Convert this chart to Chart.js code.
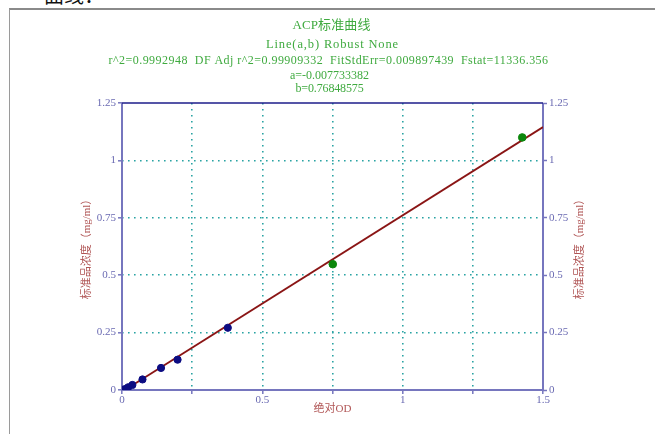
<!DOCTYPE html>
<html>
<head>
<meta charset="utf-8">
<script src="https://cdn.jsdelivr.net/npm/chart.js@4/dist/chart.umd.min.js"></script>
<style>
  html, body { margin: 0; padding: 0; background: #fff; }
  #wrap { position: relative; width: 655px; height: 434px; overflow: hidden; }
  #frame { position: absolute; left: 9px; top: 8px; right: -5px; bottom: -5px;
           border-top: 2px solid #8a8a8a; border-left: 1px solid #9a9a9a; }
  #cut { position: absolute; left: 44px; top: -17px; font: 20px "Noto Sans CJK SC"; line-height: 24px; color: #111; }
  canvas { position: absolute; left: 0; top: 0; }
</style>
</head>
<body>
<div id="wrap">
  <div id="cut">曲线：</div>
  <div id="frame"></div>
  <canvas id="c" width="655" height="434"></canvas>
</div>
<script>
// ---- data ----
const blueX = [0.002, 0.011, 0.022, 0.037, 0.073, 0.139, 0.198, 0.377];
const blueY = [0.000, 0.004, 0.012, 0.022, 0.046, 0.096, 0.132, 0.271];
const greenX = [0.751, 1.426];
const greenY = [0.548, 1.100];
const fitX = [0.0101, 1.5];
const fitY = [0.0, 1.145];
const xTicks = [0, 0.25, 0.5, 0.75, 1, 1.25, 1.5];
const xTickLabels = ['0', '', '0.5', '', '1', '', '1.5'];
const yTicks = [0, 0.25, 0.5, 0.75, 1, 1.25];
const yTickLabels = ['0', '0.25', '0.5', '0.75', '1', '1.25'];
const titleText = 'ACP标准曲线';
const subLines = [
  'Line(a,b) Robust None',
  'r^2=0.9992948  DF Adj r^2=0.99909332  FitStdErr=0.009897439  Fstat=11336.356',
  'a=-0.007733382',
  'b=0.76848575'
];
const xTitle = '绝对OD';
const yTitle = '标准品浓度（mg/ml）';

// ---- styles ----
const axisColor = '#7676be';
const topColor = '#1c1c8a';
const gridColor = '#2aa3a3';
const tickLabelColor = '#6a6ab2';
const axisTitleColor = '#b05555';
const headerColor = '#3faa3f';
const serif = '"Liberation Serif", "Noto Sans CJK SC", serif';

const toPts = (xs, ys) => xs.map((x, i) => ({ x: x, y: ys[i] }));

const headerPlugin = {
  id: 'header',
  afterDraw(chart) {
    const ctx = chart.ctx;
    const ca = chart.chartArea;
    const cx = (ca.left + ca.right) / 2;
    const rows = [
      { t: titleText, size: 13, y: 26, w: 78, dx: -1 },
      { t: subLines[0], size: 12.5, y: 45, w: 133, dx: 0 },
      { t: subLines[1], size: 12, y: 61, w: 440, dx: -4 },
      { t: subLines[2], size: 12, y: 76, w: 79, dx: -3 },
      { t: subLines[3], size: 12, y: 89, w: 68, dx: -3 }
    ];
    ctx.save();
    ctx.fillStyle = headerColor;
    ctx.textAlign = 'left';
    ctx.textBaseline = 'middle';
    rows.forEach(r => {
      ctx.font = r.size + 'px ' + serif;
      ctx.letterSpacing = '0px';
      const m = ctx.measureText(r.t).width;
      const ls = (r.w - m) / r.t.length;
      ctx.letterSpacing = ls + 'px';
      const w = ctx.measureText(r.t).width;
      ctx.fillText(r.t, cx + r.dx - w / 2, r.y);
    });
    // right axis title, reading bottom-to-top like the left one
    ctx.letterSpacing = '0px';
    ctx.fillStyle = axisTitleColor;
    ctx.font = '11px ' + serif;
    ctx.translate(580, (ca.top + ca.bottom) / 2);
    ctx.rotate(-Math.PI / 2);
    ctx.textAlign = 'center';
    ctx.fillText(yTitle, 0, 0);
    ctx.restore();
  }
};

const framePlugin = {
  id: 'frameLines',
  beforeDatasetsDraw(chart) {
    const ctx = chart.ctx;
    const ca = chart.chartArea;
    ctx.save();
    ctx.strokeStyle = axisColor;
    ctx.lineWidth = 2;
    ctx.beginPath();
    ctx.moveTo(ca.left, ca.top);
    ctx.lineTo(ca.left, ca.bottom);
    ctx.lineTo(ca.right, ca.bottom);
    ctx.lineTo(ca.right, ca.top);
    ctx.stroke();
    ctx.strokeStyle = topColor;
    ctx.lineWidth = 1.5;
    ctx.beginPath();
    ctx.moveTo(ca.left, ca.top);
    ctx.lineTo(ca.right, ca.top);
    ctx.stroke();
    ctx.restore();
  }
};

const tickFont = { family: serif, size: 11 };

new Chart(document.getElementById('c'), {
  type: 'scatter',
  data: {
    datasets: [
      { label: 'fit', type: 'line', data: toPts(fitX, fitY), borderColor: '#8a1515',
        borderWidth: 1.8, pointRadius: 0, fill: false, tension: 0, order: 3 },
      { label: 'std', data: toPts(blueX, blueY), backgroundColor: '#0c0c82',
        borderColor: '#0c0c82', pointRadius: 3.6, order: 2 },
      { label: 'samples', data: toPts(greenX, greenY), backgroundColor: '#0b870b',
        borderColor: '#0b870b', pointRadius: 3.8, order: 1 }
    ]
  },
  options: {
    responsive: false,
    animation: false,
    events: [],
    layout: { padding: { top: 103, left: 0, right: 0, bottom: 0 } },
    plugins: { legend: { display: false }, title: { display: false }, tooltip: { enabled: false } },
    scales: {
      x: {
        type: 'linear', position: 'bottom', min: 0, max: 1.5,
        afterBuildTicks: s => { s.ticks = xTicks.map(v => ({ value: v })); },
        afterFit: s => { s.height = 44; },
        ticks: { autoSkip: false, maxRotation: 0, color: tickLabelColor, font: tickFont, padding: 0,
                 callback: (v, i) => xTickLabels[i] },
        grid: {
          color: c => (c.tick && (c.tick.value === 0 || c.tick.value === 1.5)) ? 'rgba(0,0,0,0)' : gridColor,
          lineWidth: 1.6, tickColor: axisColor, tickLength: 4, tickWidth: 1.5
        },
        border: { display: false, dash: [1.6, 4.4] },
        title: { display: true, text: xTitle, color: axisTitleColor, font: { family: serif, size: 11 },
                 padding: { top: 0, bottom: 18 } }
      },
      y: {
        type: 'linear', position: 'left', min: 0, max: 1.25,
        afterBuildTicks: s => { s.ticks = yTicks.map(v => ({ value: v })); },
        afterFit: s => { s.width = 122; },
        ticks: { autoSkip: false, color: tickLabelColor, font: tickFont, padding: 2,
                 callback: (v, i) => yTickLabels[i] },
        grid: {
          color: c => (c.tick && (c.tick.value === 0 || c.tick.value === 1.25)) ? 'rgba(0,0,0,0)' : gridColor,
          lineWidth: 1.6, tickColor: axisColor, tickLength: 4, tickWidth: 1.5
        },
        border: { display: false, dash: [1.6, 4.4] },
        title: { display: true, text: yTitle, color: axisTitleColor, font: { family: serif, size: 11 },
                 padding: { top: 81, bottom: 0 } }
      },
      y2: {
        type: 'linear', position: 'right', min: 0, max: 1.25,
        afterBuildTicks: s => { s.ticks = yTicks.map(v => ({ value: v })); },
        afterFit: s => { s.width = 112; },
        ticks: { autoSkip: false, color: tickLabelColor, font: tickFont, padding: 2,
                 callback: (v, i) => yTickLabels[i] },
        grid: { drawOnChartArea: false, tickColor: axisColor, tickLength: 4, tickWidth: 1.5 },
        border: { display: false }
      }
    }
  },
  plugins: [framePlugin, headerPlugin]
});
</script>
</body>
</html>
